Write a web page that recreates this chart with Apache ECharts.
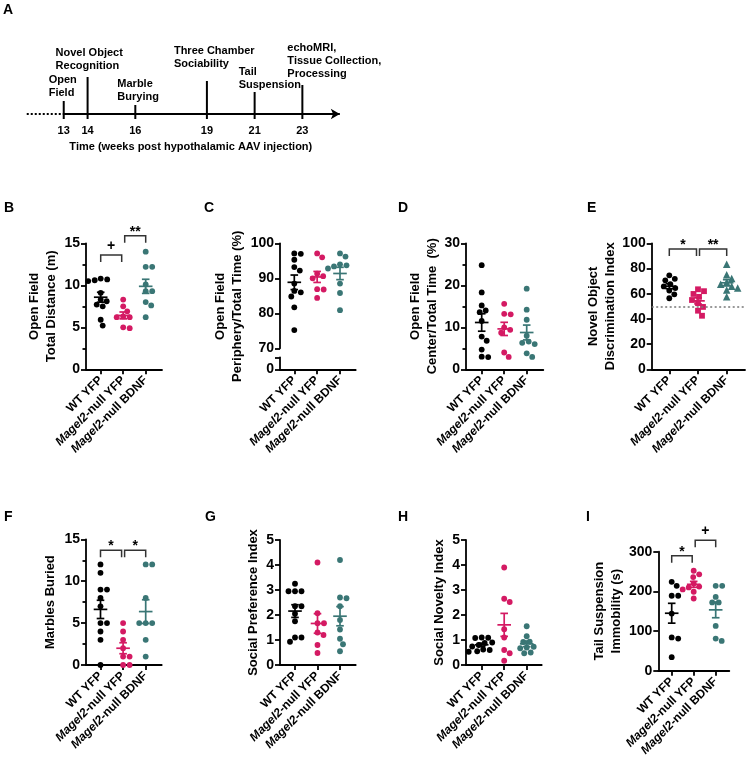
<!DOCTYPE html>
<html><head><meta charset="utf-8">
<script src="https://cdn.jsdelivr.net/npm/echarts@6/dist/echarts.min.js"></script>
<style>html,body{margin:0;padding:0;background:#fff}#c{width:747px;height:767px}</style>
</head><body><div id="c"></div>
<script>
// ================= DATA =================
const weeks = [13, 14, 16, 19, 21, 23];
const eventNames = ['Open\nField', 'Novel Object\nRecognition', 'Marble\nBurying', 'Three Chamber\nSociability', 'Tail\nSuspension', 'echoMRI,\nTissue Collection,\nProcessing'];
const timeAxisTitle = 'Time (weeks post hypothalamic AAV injection)';
const groupLabels = ['WT YFP', 'Magel2-null YFP', 'Magel2-null BDNF'];

// B: open field total distance (m)
const distWT   = [10.8, 10.7, 10.6, 10.5, 9.1, 8.3, 8.1, 7.7, 7.5, 5.9, 5.2];
const distNull = [8.3, 7.5, 6.9, 6.3, 6.2, 6.2, 5.0, 4.9];
const distBDNF = [14.0, 12.2, 12.2, 10.1, 9.3, 9.3, 8.0, 7.6, 6.2];
// C: periphery / total time (%)
const periWT   = [75.2, 81.7, 84.8, 86.0, 86.4, 88.5, 92.2, 93.2, 95.3, 97.0, 97.1];
const periNull = [84.4, 86.8, 86.9, 90.0, 90.6, 91.3, 96.0, 97.1];
const periBDNF = [80.9, 85.8, 88.5, 92.8, 93.4, 93.7, 94.0, 96.2, 97.1];
// D: center / total time (%)
const centerWT   = [24.8, 18.3, 15.2, 14.0, 13.6, 11.5, 7.8, 6.8, 4.7, 3.0, 2.9];
const centerNull = [15.6, 13.2, 13.1, 10.0, 9.4, 8.7, 4.0, 2.95];
const centerBDNF = [19.2, 14.2, 11.8, 8.0, 6.6, 6.3, 6.0, 3.8, 2.95];
// E: novel object discrimination index
const norWT   = [74.6, 71.8, 70.6, 67.5, 65.8, 64.5, 62.5, 59.5, 56.4];
const norNull = [63.5, 62.0, 59.8, 57.5, 55.0, 52.5, 49.5, 46.5, 42.5];
const norBDNF = [83.3, 75.0, 72.0, 69.0, 67.5, 66.0, 64.5, 63.0, 57.5];
const chanceLevel = 50;
// F: marbles buried
const marbWT   = [12, 11, 9, 9, 8, 7, 5, 5, 4, 3, 0];
const marbNull = [5, 4, 3, 2, 1, 1, 0, 0];
const marbBDNF = [12, 12, 8, 5, 5, 5, 3, 1];
// G: social preference index
const sprefWT   = [3.25, 2.95, 2.95, 2.95, 2.35, 2.35, 2.05, 1.75, 1.1, 1.1, 0.93];
const sprefNull = [4.1, 2.07, 1.67, 1.67, 1.3, 1.2, 0.8, 0.48];
const sprefBDNF = [4.2, 2.7, 2.67, 2.35, 1.8, 1.42, 1.05, 0.83, 0.55];
// H: social novelty index
const snovWT   = [1.1, 1.09, 1.08, 0.9, 0.88, 0.8, 0.74, 0.62, 0.6, 0.55, 0.53];
const snovNull = [3.9, 2.65, 2.52, 1.43, 1.1, 0.6, 0.47, 0.17];
const snovBDNF = [1.55, 1.15, 0.93, 0.92, 0.73, 0.7, 0.67, 0.5, 0.47];
// I: tail suspension immobility (s)
const tailWT   = [224, 214, 189, 189, 144, 84, 81, 34];
const tailNull = [252, 243, 236, 220, 212, 210, 205, 199, 182];
const tailBDNF = [214, 214, 186, 172, 172, 113, 81, 75];

// significance brackets: [fromGroup, toGroup, height, label]
const bracketsB = [[1, 2, 13.6, '+'], [2, 3, 15.9, '**']];
const bracketsE = [[1, 2, 95.5, '*'], [2, 3, 95.5, '**']];
const bracketsF = [[1, 2, 13.7, '*'], [2, 3, 13.7, '*']];
const bracketsI = [[1, 2, 290, '*'], [2, 3, 329, '+']];

// ================= STYLE / LAYOUT =================
const FONT = '"Liberation Sans", Arial, Helvetica, sans-serif';
const COLORS = ['#000000', '#d41a63', '#3a7675'];
const AXW = 1.8;
const DOT = 5.8, COLLIDE = 6.2;

const geom = {
  B: {ax: 86, c1: 100.7, c3: 145.7, end: 162, top: 243.3, bottom: 369.3},
  C: {ax: 280, c1: 294.3, c3: 340, end: 355.7, top: 243.3, bottom: 369.3, breakTop: 348.3, stubTop: 357.3},
  D: {ax: 466, c1: 481.7, c3: 526.7, end: 543.3, top: 243.3, bottom: 369.3},
  E: {ax: 651.7, c1: 669.3, c3: 726.7, end: 745, top: 243.3, bottom: 369.3},
  F: {ax: 86, c1: 100.5, c3: 145.7, end: 161.7, top: 539.3, bottom: 665},
  G: {ax: 280, c1: 295, c3: 340, end: 355.7, top: 540, bottom: 665},
  H: {ax: 466, c1: 481.7, c3: 526.7, end: 541.7, top: 540, bottom: 665},
  I: {ax: 658.3, c1: 671.7, c3: 715.7, end: 729.3, top: 551.7, bottom: 670.7}
};
const letterPos = {A: [3, 3], B: [4, 201], C: [204, 201], D: [398, 201], E: [587, 201], F: [4, 510], G: [205, 510], H: [398, 510], I: [586, 510]};
// timeline event layout: line length above axis, label left offset, label last-line centre above axis
const eventLayout = [
  {len: 13, dx: -15, above: 21},
  {len: 37, dx: -32, above: 48},
  {len: 9, dx: -18, above: 17},
  {len: 33, dx: -33, above: 50},
  {len: 22, dx: -16, above: 29},
  {len: 29, dx: -15, above: 40}
];

const panels = [
  {id: 'B', groups: [distWT, distNull, distBDNF], min: 0, max: 15, interval: 5, minor: true, title: 'Open Field\nTotal Distance (m)', gap: 26, brackets: bracketsB},
  {id: 'C', groups: [periWT, periNull, periBDNF], min: 70, max: 100, interval: 10, breakAxis: true, title: 'Open Field\nPeriphery/Total Time (%)', gap: 34},
  {id: 'D', groups: [centerWT, centerNull, centerBDNF], min: 0, max: 30, interval: 10, minor: true, title: 'Open Field\nCenter/Total Time  (%)', gap: 24},
  {id: 'E', groups: [norWT, norNull, norBDNF], min: 0, max: 100, interval: 20, symbols: ['circle', 'rect', 'triangle'], title: 'Novel Object\nDiscrimination Index', gap: 33, brackets: bracketsE, refLine: chanceLevel},
  {id: 'F', groups: [marbWT, marbNull, marbBDNF], min: 0, max: 15, interval: 5, minor: true, title: 'Marbles Buried', gap: 27, brackets: bracketsF},
  {id: 'G', groups: [sprefWT, sprefNull, sprefBDNF], min: 0, max: 5, interval: 1, title: 'Social Preference Index', gap: 18},
  {id: 'H', groups: [snovWT, snovNull, snovBDNF], min: 0, max: 5, interval: 1, title: 'Social Novelty Index', gap: 17},
  {id: 'I', groups: [tailWT, tailNull, tailBDNF], min: 0, max: 300, interval: 100, title: 'Tail Suspension\nImmobility (s)', gap: 33, brackets: bracketsI}
];

// ================= BUILD =================
const grids = [], xAxes = [], yAxes = [], series = [], titles = [];
function addGrid(l, t, r, b) {
  grids.push({left: l, top: t, width: r - l, height: b - t, containLabel: false, outerBoundsMode: 'none'});
  return grids.length - 1;
}
function meanSem(a) {
  const n = a.length, m = a.reduce((s, v) => s + v, 0) / n;
  const sd = Math.sqrt(a.reduce((s, v) => s + (v - m) * (v - m), 0) / (n - 1));
  return [m, sd / Math.sqrt(n)];
}
function swarm(values, pxPerY, size) {
  const placed = [], out = [];
  const order = values.map((v, i) => i).sort((a, b) => values[b] - values[a]);
  order.forEach(i => {
    const y = values[i] * pxPerY;
    const near = placed.filter(p => Math.abs(p.y - y) < size);
    const sumX = near.reduce((s, p) => s + p.x, 0);
    const side = sumX > 0 ? -1 : 1;
    let best = 0;
    for (let k = 0; k < 200; k++) {
      const cands = k === 0 ? [0] : [side * k * 0.5, -side * k * 0.5];
      let found = null;
      for (const dx of cands) {
        if (placed.every(p => (p.x - dx) * (p.x - dx) + (p.y - y) * (p.y - y) >= size * size)) { found = dx; break; }
      }
      if (found !== null) { best = found; break; }
    }
    placed.push({x: best, y});
    out[i] = best;
  });
  return out;
}
const catFormatter = v => {
  if (Math.abs(v - 1) < 1e-6) return groupLabels[0];
  const lab = Math.abs(v - 2) < 1e-6 ? groupLabels[1] : groupLabels[2];
  return lab.replace('Magel2', '{i|Magel2}');
};
function xAxisCfg(gi, min, max, visible) {
  return {
    gridIndex: gi, type: 'value', min, max, show: visible,
    axisLine: {show: true, onZero: false, lineStyle: {color: '#000', width: AXW}},
    axisTick: {show: true, customValues: [1, 2, 3], length: 5, lineStyle: {color: '#000', width: AXW}},
    axisLabel: {customValues: [1, 2, 3], rotate: 45, margin: 9, formatter: catFormatter, color: '#000',
      fontFamily: FONT, fontWeight: 'bold', fontSize: 12,
      rich: {i: {fontStyle: 'italic', fontWeight: 'bold', fontSize: 12, fontFamily: FONT, color: '#000'}}},
    splitLine: {show: false}
  };
}
function yAxisCfg(gi, min, max, interval, minor, title, gap) {
  return {
    gridIndex: gi, type: 'value', min, max, interval,
    axisLine: {show: true, onZero: false, lineStyle: {color: '#000', width: AXW}},
    axisTick: {show: true, length: 5, lineStyle: {color: '#000', width: AXW}},
    minorTick: {show: !!minor, splitNumber: 2, length: 3.5, lineStyle: {color: '#000', width: AXW}},
    splitLine: {show: false}, minorSplitLine: {show: false},
    axisLabel: {color: '#000', fontFamily: FONT, fontWeight: 'bold', fontSize: 14, margin: 6},
    name: title, nameLocation: 'middle', nameGap: gap, nameRotate: 90,
    nameTextStyle: {color: '#000', fontFamily: FONT, fontWeight: 'bold', fontSize: 13, lineHeight: 17}
  };
}

// ---- Timeline (A) ----
{
  const gi = addGrid(16, 64, 16 + 349.6, 114);
  xAxes.push({gridIndex: gi, type: 'value', min: 11, max: 25.65,
    axisLine: {show: false}, axisTick: {show: false}, splitLine: {show: false},
    axisLabel: {customValues: weeks, margin: 11, color: '#000', fontFamily: FONT, fontWeight: 'bold', fontSize: 11},
    name: timeAxisTitle, nameLocation: 'middle', nameGap: 27,
    nameTextStyle: {color: '#000', fontFamily: FONT, fontWeight: 'bold', fontSize: 11}});
  yAxes.push({gridIndex: gi, type: 'value', min: 0, max: 1, show: false});
  const xi = xAxes.length - 1, yi = yAxes.length - 1;
  series.push({type: 'line', xAxisIndex: xi, yAxisIndex: yi, data: [[11.45, 0], [weeks[0], 0]], symbol: 'none', silent: true,
    lineStyle: {color: '#000', width: 2, type: [2, 2]},
    markLine: {silent: true, symbol: ['none', 'arrow'], symbolSize: [8, 9], label: {show: false},
      lineStyle: {color: '#000', width: 2, type: 'solid'},
      data: [[{coord: [weeks[0], 0]}, {coord: [24.57, 0]}]]}});
  series.push({type: 'custom', xAxisIndex: xi, yAxisIndex: yi, silent: true, clip: false,
    data: weeks.map(w => [w, 0]),
    renderItem: (params, api) => {
      const i = params.dataIndex, L = eventLayout[i];
      const p = api.coord([api.value(0), 0]);
      return {type: 'group', children: [
        {type: 'line', shape: {x1: p[0], y1: p[1] + 5, x2: p[0], y2: p[1] - L.len}, style: {stroke: '#000', lineWidth: 2}},
        {type: 'text', style: {text: eventNames[i], x: p[0] + L.dx, y: p[1] - L.above + 6.5, fill: '#000',
          font: 'bold 11px ' + FONT, align: 'left', verticalAlign: 'bottom', lineHeight: 13}}
      ]};
    }});
}

// ---- scatter panels ----
panels.forEach(p => {
  const g = geom[p.id];
  const pxPerX = (g.c3 - g.c1) / 2;
  const xmin = 1 - (g.c1 - g.ax) / pxPerX;
  const xmax = 3 + (g.end - g.c3) / pxPerX;
  let xi, yi, plotTop = g.top, plotBottom = g.bottom;
  if (!p.breakAxis) {
    const gi = addGrid(g.ax, g.top, g.end, g.bottom);
    xAxes.push(xAxisCfg(gi, xmin, xmax, true));
    yAxes.push(yAxisCfg(gi, p.min, p.max, p.interval, p.minor, p.title, p.gap));
    xi = xAxes.length - 1; yi = yAxes.length - 1;
  } else {
    plotBottom = g.breakTop;
    const gTop = addGrid(g.ax, g.top, g.end, g.breakTop);
    xAxes.push(xAxisCfg(gTop, xmin, xmax, false));
    yAxes.push(yAxisCfg(gTop, p.min, p.max, p.interval, false, '', 0));
    xi = xAxes.length - 1; yi = yAxes.length - 1;
    const gStub = addGrid(g.ax, g.stubTop, g.end, g.bottom);
    xAxes.push(xAxisCfg(gStub, xmin, xmax, true));
    const stubY = yAxisCfg(gStub, 0, 1, 1, false, '', 0);
    stubY.axisLabel.formatter = v => (v === 0 ? '0' : '');
    yAxes.push(stubY);
    const gName = addGrid(g.ax, g.top, g.end, g.bottom);
    xAxes.push({gridIndex: gName, type: 'value', min: 0, max: 1, show: false});
    const nameY = yAxisCfg(gName, 0, 1, 1, false, p.title, p.gap);
    nameY.axisLine = {show: false}; nameY.axisTick = {show: false}; nameY.axisLabel = {show: false};
    yAxes.push(nameY);
  }
  const pxPerY = (plotBottom - plotTop) / (p.max - p.min);
  const stats = [];
  p.groups.forEach((vals, k) => {
    const sym = p.symbols ? p.symbols[k] : 'circle';
    const size = sym === 'triangle' ? 7.5 : DOT;
    const offs = swarm(vals.map(v => v - p.min), pxPerY, COLLIDE);
    const s = {type: 'scatter', xAxisIndex: xi, yAxisIndex: yi, silent: true, symbol: sym, symbolSize: size,
      itemStyle: {color: COLORS[k], opacity: 1}, z: 2,
      data: vals.map((v, i) => [k + 1 + offs[i] / pxPerX, v])};
    if (k === 0 && p.refLine !== undefined) {
      s.markLine = {silent: true, symbol: 'none', label: {show: false}, animation: false,
        lineStyle: {color: '#777', width: 1.5, type: [2, 2.5]}, data: [{yAxis: p.refLine}]};
    }
    series.push(s);
    const ms = meanSem(vals);
    stats.push([k + 1, ms[0], ms[1], k]);
  });
  series.push({type: 'custom', xAxisIndex: xi, yAxisIndex: yi, silent: true, clip: false, z: 3, data: stats,
    renderItem: (params, api) => {
      const x = api.value(0), m = api.value(1), s = api.value(2), c = COLORS[api.value(3)];
      const pm = api.coord([x, m]), pt = api.coord([x, m + s]), pb = api.coord([x, m - s]);
      const st = {stroke: c, lineWidth: 1.7};
      return {type: 'group', children: [
        {type: 'line', shape: {x1: pm[0] - 6.8, y1: pm[1], x2: pm[0] + 6.8, y2: pm[1]}, style: st},
        {type: 'line', shape: {x1: pt[0], y1: pt[1], x2: pb[0], y2: pb[1]}, style: st},
        {type: 'line', shape: {x1: pt[0] - 3.8, y1: pt[1], x2: pt[0] + 3.8, y2: pt[1]}, style: st},
        {type: 'line', shape: {x1: pb[0] - 3.8, y1: pb[1], x2: pb[0] + 3.8, y2: pb[1]}, style: st}
      ]};
    }});
  if (p.brackets) {
    const br = p.brackets;
    series.push({type: 'custom', xAxisIndex: xi, yAxisIndex: yi, silent: true, clip: false, z: 4,
      data: br.map(b => [b[0], b[2]]),
      renderItem: (params, api) => {
        const b = br[params.dataIndex];
        const p1 = api.coord([b[0], b[2]]), p2 = api.coord([b[1], b[2]]);
        if (b[1] === 2) p2[0] -= 1.5;
        if (b[0] === 2) p1[0] += 1.5;
        const drop = 7;
        return {type: 'group', children: [
          {type: 'polyline', shape: {points: [[p1[0], p1[1] + drop], [p1[0], p1[1]], [p2[0], p2[1]], [p2[0], p2[1] + drop]]},
            style: {stroke: '#333', lineWidth: 1.5, fill: null}},
          {type: 'text', style: {text: b[3], x: (p1[0] + p2[0]) / 2, y: p1[1] - (b[3] === '+' ? 9 : 4),
            fill: '#000', font: 'bold 14px ' + FONT, align: 'center', verticalAlign: 'middle'}}
        ]};
      }});
  }
});

Object.keys(letterPos).forEach(k => {
  titles.push({text: k, left: letterPos[k][0], top: letterPos[k][1], padding: 0,
    textStyle: {color: '#000', fontFamily: FONT, fontWeight: 'bold', fontSize: 14}});
});

const chart = echarts.init(document.getElementById('c'), null, {renderer: 'canvas', width: 747, height: 767});
chart.setOption({
  animation: false, backgroundColor: '#fff',
  title: titles, grid: grids, xAxis: xAxes, yAxis: yAxes, series
});
</script></body></html>
